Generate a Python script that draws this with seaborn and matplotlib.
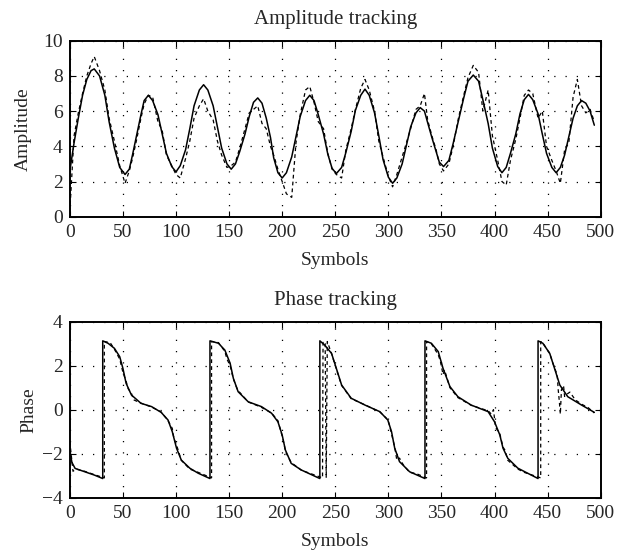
import numpy as np
import pandas as pd
import matplotlib
matplotlib.use("Agg")
import matplotlib.pyplot as plt
import seaborn as sns

# Amplitude tracking: true amplitude (solid) and estimate (dashed)
amp_x = [0, 4, 8, 12, 16, 20,
         23, 28, 33, 37, 42, 47,
         52, 56, 59, 63, 67, 70,
         74, 78, 83, 87, 91, 96,
         100, 104, 109, 113, 117, 122,
         126, 130, 135, 139, 143, 148,
         152, 156, 160, 165, 169, 173,
         177, 181, 185, 189, 192, 196,
         200, 204, 209, 213, 217, 222,
         226, 230, 234, 239, 243, 247,
         251, 256, 260, 265, 269, 274,
         278, 282, 287, 291, 295, 300,
         304, 308, 313, 317, 321, 326,
         330, 334, 337, 341, 345, 348,
         352, 357, 361, 366, 371, 375,
         380, 385, 389, 394, 398, 403,
         407, 411, 415, 420, 424, 428,
         432, 436, 441, 445, 449, 454,
         458, 462, 466, 470, 474, 478,
         482, 486, 490, 494]

amp_true = [2.6, 4.2, 5.6, 6.9, 7.8, 8.3,
            8.4, 8.0, 6.9, 5.4, 3.9, 2.8,
            2.4, 2.7, 3.5, 4.65, 5.8, 6.6,
            6.9, 6.6, 5.8, 4.7, 3.6, 2.85,
            2.55, 2.9, 3.8, 5.0, 6.3, 7.2,
            7.5, 7.2, 6.3, 5.1, 3.9, 3.0,
            2.7, 3.0, 3.7, 4.7, 5.7, 6.5,
            6.75, 6.45, 5.6, 4.5, 3.35, 2.5,
            2.2, 2.5, 3.4, 4.55, 5.7, 6.6,
            6.9, 6.6, 5.8, 4.7, 3.55, 2.75,
            2.45, 2.8, 3.65, 4.85, 6.05, 6.9,
            7.25, 6.9, 5.9, 4.6, 3.25, 2.25,
            1.9, 2.2, 3.0, 4.05, 5.1, 5.9,
            6.2, 6.0, 5.35, 4.5, 3.7, 3.1,
            2.85, 3.2, 4.15, 5.45, 6.75, 7.7,
            8.05, 7.7, 6.65, 5.3, 3.9, 2.85,
            2.5, 2.8, 3.6, 4.7, 5.85, 6.65,
            6.95, 6.65, 5.85, 4.7, 3.6, 2.8,
            2.5, 2.8, 3.5, 4.55, 5.6, 6.3,
            6.6, 6.45, 6.0, 5.2]

amp_est = [0.3, 4.6, 5.9, 7.0, 8.0, 8.7,
           9.1, 8.3, 7.2, 5.6, 4.3, 2.9,
           1.9, 2.6, 3.3, 4.4, 5.6, 6.4,
           6.9, 6.8, 5.4, 4.9, 3.5, 2.9,
           2.4, 2.2, 3.3, 4.3, 5.6, 6.3,
           6.7, 6.0, 5.5, 4.3, 3.5, 2.8,
           2.9, 3.1, 3.9, 5.0, 5.9, 6.1,
           6.3, 5.3, 5.0, 4.0, 3.5, 2.7,
           2.0, 1.3, 1.1, 4.2, 5.8, 7.2,
           7.4, 6.5, 5.4, 5.0, 3.6, 2.7,
           2.4, 2.2, 3.8, 5.0, 6.1, 7.3,
           7.8, 7.2, 6.0, 4.3, 3.4, 2.3,
           1.7, 2.4, 3.4, 4.2, 5.0, 6.1,
           6.3, 7.0, 5.5, 4.6, 3.8, 3.0,
           2.6, 3.0, 4.0, 5.6, 6.9, 7.9,
           8.6, 8.2, 6.0, 7.2, 4.6, 3.2,
           2.0, 1.8, 3.2, 4.4, 5.6, 6.9,
           7.2, 7.0, 5.6, 6.0, 4.0, 3.2,
           2.6, 1.9, 3.8, 4.2, 6.8, 7.8,
           6.3, 5.9, 6.1, 5.4]

# Phase tracking: true phase (solid)
ph_true_x = [0, 2, 5, 14, 23, 31, 31, 36, 42, 47, 50, 53, 58, 67, 77, 86,
             92.5, 96.5, 100.5, 105, 113, 121, 132, 132, 140, 146, 151, 154,
             158.5, 168, 180.5, 190, 196, 200, 203, 208.5, 218, 235.5, 235.5,
             240, 246.5, 251, 256, 265, 278, 292, 299.5, 303, 306, 310.5, 320,
             334.5, 334.5, 340.5, 347, 351.5, 358, 365.5, 378, 394, 400, 405,
             408, 412.5, 422, 441, 441, 445.5, 452, 456.5, 461.5, 469, 482, 494]
ph_true = [-1.9, -2.4, -2.67, -2.82, -2.97, -3.13, 3.13, 3.02, 2.79, 2.41,
           1.88, 1.2, 0.67, 0.29, 0.14, -0.12, -0.47, -1.0, -1.75, -2.29,
           -2.66, -2.89, -3.13, 3.13, 3.02, 2.71, 2.11, 1.43, 0.82, 0.36,
           0.14, -0.16, -0.55, -1.15, -1.83, -2.44, -2.74, -3.13, 3.13, 2.94,
           2.56, 1.88, 1.12, 0.52, 0.21, -0.09, -0.47, -1.0, -1.75, -2.36,
           -2.82, -3.13, 3.13, 3.02, 2.64, 1.88, 1.05, 0.59, 0.21, -0.09,
           -0.55, -1.15, -1.75, -2.21, -2.66, -3.13, 3.13, 3.02, 2.56, 1.88,
           1.12, 0.59, 0.21, -0.12]

# Phase tracking: estimate (dashed)
ph_est_x = [0, 3, 6, 14, 23, 32.5, 32.5, 38, 42, 47, 50, 53, 55, 58, 60, 67,
            77, 86, 92.5, 96.5, 98, 100.5, 105, 113, 121, 133.5, 133.5, 140,
            146, 148, 151, 154, 158, 168, 180, 190, 196, 200, 202, 203, 208.5,
            218, 238, 238.5, 240.5, 241.5, 242.5, 246.5, 251, 256, 265, 278,
            292, 299.5, 301, 303, 306, 308, 310.5, 314, 320, 326, 336, 336,
            340.5, 347, 349, 351.5, 353, 358, 365.5, 378, 394, 397, 399, 401,
            405, 408, 410, 412.5, 422, 428, 443.5, 443.5, 446, 452, 456.5,
            459, 460, 461, 462, 463, 465, 466, 468, 471, 476, 482, 488, 494]
ph_est = [-1.45, -2.8, -2.7, -2.8, -2.95, -3.1, 3.1, 3.05, 2.75, 2.3, 1.7,
          1.3, 0.95, 0.75, 0.45, 0.3, 0.12, -0.1, -0.5, -0.85, -1.3, -1.6,
          -2.3, -2.7, -2.85, -3.1, 3.1, 3.05, 2.65, 2.3, 2.0, 1.4, 0.9, 0.35,
          0.12, -0.15, -0.5, -1.2, -1.6, -1.9, -2.4, -2.75, -3.1, 3.1, 3.0,
          -3.1, 3.1, 2.55, 1.85, 1.1, 0.5, 0.22, -0.1, -0.45, -0.7, -1.1,
          -1.7, -2.3, -2.2, -2.5, -2.85, -2.9, -3.1, 3.1, 3.0, 2.5, 2.2, 1.6,
          1.8, 1.0, 0.55, 0.2, -0.05, -0.2, 0.0, -0.8, -1.1, -1.7, -1.85,
          -2.3, -2.7, -2.85, -3.1, 3.1, 3.0, 2.55, 1.9, 1.6, 0.9, 0.4, -0.2,
          0.9, 1.1, 0.6, 0.7, 0.8, 0.45, 0.25, 0.1, -0.15]

amp_df = pd.DataFrame({"Symbols": amp_x, "true": amp_true, "est": amp_est})
ph_true_df = pd.DataFrame({"Symbols": ph_true_x, "Phase": ph_true})
ph_est_df = pd.DataFrame({"Symbols": ph_est_x, "Phase": ph_est})

sns.set_theme(style="ticks")
plt.rcParams["font.family"] = ["Liberation Serif", "DejaVu Serif"]
plt.rcParams["font.size"] = 14

fig = plt.figure(figsize=(6.29, 5.52), dpi=100)
ax1 = fig.add_axes([0.111, 0.6074, 0.844, 0.3188])
ax2 = fig.add_axes([0.111, 0.0984, 0.844, 0.3188])

sns.lineplot(data=amp_df, x="Symbols", y="true", ax=ax1, color="black",
             linewidth=1.1, estimator=None, sort=False)
sns.lineplot(data=amp_df, x="Symbols", y="est", ax=ax1, color="black",
             linewidth=0.9, estimator=None, sort=False)
ax1.lines[-1].set_dashes((3, 2.5))

sns.lineplot(data=ph_true_df, x="Symbols", y="Phase", ax=ax2, color="black",
             linewidth=1.1, estimator=None, sort=False)
sns.lineplot(data=ph_est_df, x="Symbols", y="Phase", ax=ax2, color="black",
             linewidth=0.9, estimator=None, sort=False)
ax2.lines[-1].set_dashes((3, 2.5))

ax1.set_xlim(0, 500)
ax1.set_ylim(0, 10)
ax1.set_xticks(range(0, 501, 50))
ax1.set_yticks(range(0, 11, 2))
ax1.set_title("Amplitude tracking", fontsize=15, pad=12)
ax1.set_xlabel("Symbols", fontsize=14, labelpad=8)
ax1.set_ylabel("Amplitude", fontsize=14, labelpad=8)

ax2.set_xlim(0, 500)
ax2.set_ylim(-4, 4)
ax2.set_xticks(range(0, 501, 50))
ax2.set_yticks(range(-4, 5, 2))
ax2.set_title("Phase tracking", fontsize=15, pad=12)
ax2.set_xlabel("Symbols", fontsize=14, labelpad=8)
ax2.set_ylabel("Phase", fontsize=14, labelpad=3)

for ax in (ax1, ax2):
    ax.grid(True, color="black", linestyle=(0, (1, 8)), linewidth=0.9)
    ax.tick_params(direction="in", top=True, right=True, length=4,
                   width=0.8, labelsize=14, color="black", pad=5)
    for sp in ax.spines.values():
        sp.set_visible(True)
        sp.set_color("black")
        sp.set_linewidth(1.4)

fig.savefig("out.png", dpi=100)
